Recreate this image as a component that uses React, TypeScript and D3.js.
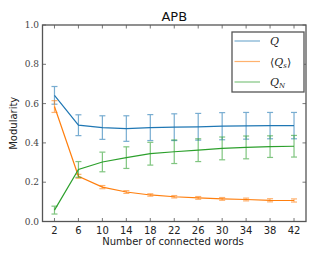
import React from "react";
import * as d3 from "d3";

// values
const words = [2, 6, 10, 14, 18, 22, 26, 30, 34, 38, 42];
const qMean = [0.642, 0.49, 0.478, 0.473, 0.478, 0.48, 0.482, 0.485, 0.487, 0.488, 0.488];
const qErr = [0.045, 0.053, 0.06, 0.065, 0.066, 0.068, 0.068, 0.069, 0.068, 0.067, 0.067];
const qsMean = [0.585, 0.23, 0.175, 0.15, 0.135, 0.126, 0.12, 0.115, 0.112, 0.108, 0.107];
const qsErr = [0.03, 0.01, 0.008, 0.007, 0.006, 0.006, 0.007, 0.007, 0.007, 0.008, 0.008];
const qnMean = [0.058, 0.265, 0.303, 0.325, 0.345, 0.355, 0.363, 0.372, 0.377, 0.381, 0.383];
const qnErr = [0.02, 0.04, 0.05, 0.055, 0.058, 0.06, 0.058, 0.058, 0.058, 0.055, 0.055];
const yTicks = [0.0, 0.2, 0.4, 0.6, 0.8, 1.0];

const series = [
  { name: "Q", mean: qMean, err: qErr, color: "#1f77b4" },
  { name: "Qs", mean: qsMean, err: qsErr, color: "#ff7f0e" },
  { name: "QN", mean: qnMean, err: qnErr, color: "#2ca02c" },
];

const W = 322;
const H = 257;
const left = 42.5;
const right = 306;
const top = 25;
const bottom = 221.5;

const App = () => {
  const x = d3.scaleLinear().domain([0, 44]).range([left, right]);
  const y = d3.scaleLinear().domain([0, 1]).range([bottom, top]);
  const line = d3
    .line<number>()
    .x((d, i) => x(words[i]))
    .y((d) => y(d));
  const cap = 3;
  const frame = "#555";

  return (
    <div style={{ margin: -8, width: W, height: H }}>
      <svg width={W} height={H} style={{ display: "block" }}>
        <rect width={W} height={H} fill="#fff" />
        {/* data: error bars then lines */}
        {series.map((s) => (
          <g key={s.name}>
            <g stroke={s.color} strokeWidth={1.2} opacity={0.6}>
              {s.mean.map((m, i) => {
                const cx = x(words[i]);
                const y0 = y(m - s.err[i]);
                const y1 = y(m + s.err[i]);
                return (
                  <g key={i}>
                    <line x1={cx} x2={cx} y1={y0} y2={y1} />
                    <line x1={cx - cap} x2={cx + cap} y1={y0} y2={y0} />
                    <line x1={cx - cap} x2={cx + cap} y1={y1} y2={y1} />
                  </g>
                );
              })}
            </g>
            <path d={line(s.mean) ?? ""} fill="none" stroke={s.color} strokeWidth={1.2} />
          </g>
        ))}
        {/* frame */}
        <rect
          x={left}
          y={top}
          width={right - left}
          height={bottom - top}
          fill="none"
          stroke={frame}
          strokeWidth={1.3}
        />
        {/* ticks inward on all sides */}
        <g stroke={frame} strokeWidth={0.8}>
          {words.map((w) => (
            <g key={w}>
              <line x1={x(w)} x2={x(w)} y1={bottom} y2={bottom - 3.5} />
              <line x1={x(w)} x2={x(w)} y1={top} y2={top + 3.5} />
            </g>
          ))}
          {yTicks.map((t) => (
            <g key={t}>
              <line x1={left} x2={left + 3.5} y1={y(t)} y2={y(t)} />
              <line x1={right} x2={right - 3.5} y1={y(t)} y2={y(t)} />
            </g>
          ))}
        </g>
        {/* tick labels */}
        <g fontFamily="DejaVu Sans, sans-serif" fontSize={10} fill="#222" textAnchor="middle">
          {words.map((w) => (
            <text key={w} x={x(w)} y={234}>
              {w}
            </text>
          ))}
        </g>
        <g fontFamily="DejaVu Serif, serif" fontSize={9} fill="#444" textAnchor="end">
          {yTicks.map((t) => (
            <text key={t} x={39} y={y(t) + 3}>
              {t.toFixed(1)}
            </text>
          ))}
        </g>
        {/* axis labels and title */}
        <text
          x={W / 2 + 12}
          y={245}
          textAnchor="middle"
          fontFamily="DejaVu Sans, sans-serif"
          fontSize={10}
          fill="#222"
        >
          Number of connected words
        </text>
        <text
          transform={`translate(17, ${(top + bottom) / 2}) rotate(-90)`}
          textAnchor="middle"
          fontFamily="DejaVu Sans, sans-serif"
          fontSize={10}
          fill="#222"
        >
          Modularity
        </text>
        <text
          x={(left + right) / 2}
          y={21}
          textAnchor="middle"
          fontFamily="DejaVu Sans, sans-serif"
          fontSize={13}
          fill="#111"
        >
          APB
        </text>
        {/* legend */}
        <rect x={232} y={32} width={72} height={60} fill="#fff" stroke={frame} strokeWidth={1.3} />
        {series.map((s, i) => {
          const ly = 41 + i * 20.5;
          return (
            <g key={s.name}>
              <line x1={234.5} x2={260} y1={ly} y2={ly} stroke={s.color} strokeWidth={1.2} opacity={0.6} />
              <text
                x={270}
                y={ly + 4}
                fontFamily="DejaVu Serif, serif"
                fontStyle="italic"
                fontSize={11}
                fill="#222"
              >
                {s.name === "Q" && "Q"}
                {s.name === "Qs" && (
                  <>
                    <tspan fontStyle="normal">⟨</tspan>Q
                    <tspan fontSize={7} dy={2}>s</tspan>
                    <tspan fontStyle="normal" dy={-2}>⟩</tspan>
                  </>
                )}
                {s.name === "QN" && (
                  <>
                    Q<tspan fontSize={7} dy={2}>N</tspan>
                  </>
                )}
              </text>
            </g>
          );
        })}
      </svg>
    </div>
  );
};

export default App;
